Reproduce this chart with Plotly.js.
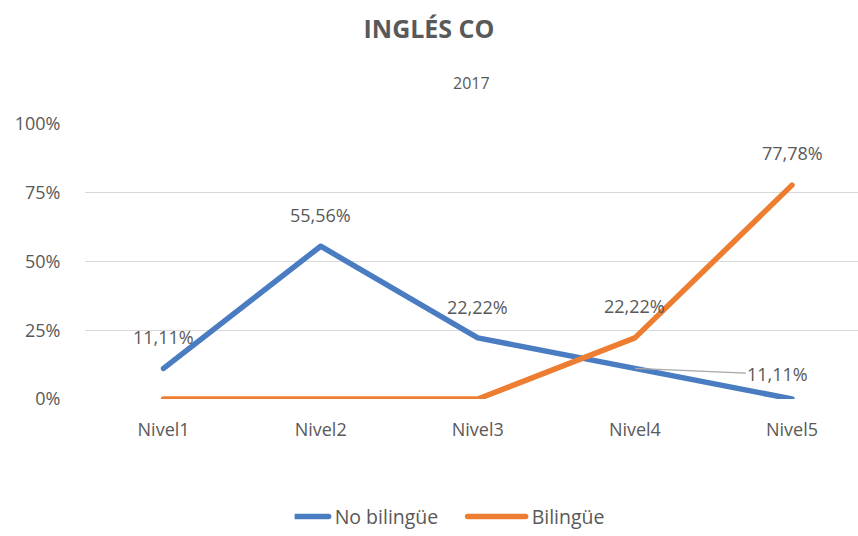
<!DOCTYPE html>
<html><head><meta charset="utf-8">
<script src="https://cdn.plot.ly/plotly-3.0.1.min.js"></script>
<style>html,body{margin:0;padding:0;background:#fff}
.js-line{stroke-linecap:round;stroke-linejoin:round}
.legendlines path{stroke-linecap:round}</style>
</head><body><div id="chart" style="width:858px;height:536px"></div>
<script>
const categories = ["Nivel1","Nivel2","Nivel3","Nivel4","Nivel5"];
const noBilingue = [0.1111, 0.5556, 0.2222, 0.1111, 0];
const bilingue = [0, 0, 0, 0.2222, 0.7778];
const noBilingueLabels = ["11,11%","55,56%","22,22%","11,11%",""];
const bilingueLabels = ["","","","22,22%","77,78%"];
const yTicks = [0,0.25,0.5,0.75,1];
const yTickLabels = ["0%","25%","50%","75%","100%"];

const FONT = "Open Sans, Noto Sans, sans-serif";
const GREY = "#595959";
const FS = 18;

const traces = [
  {x: categories, y: noBilingue, name: "No bilingüe", type: "scatter", mode: "lines",
   line: {color: "#4A7CC2", width: 5.5}},
  {x: categories, y: bilingue, name: "Bilingüe", type: "scatter", mode: "lines",
   line: {color: "#ED7D31", width: 5.5}}
];

const annotations = [];
noBilingueLabels.forEach((t,i)=>{
  if(!t) return;
  if(i===3){
    annotations.push({x: categories[i], y: noBilingue[i], text: t, showarrow: true,
      arrowhead: 0, arrowwidth: 1.2, arrowcolor: "#A6A6A6", ax: 143, ay: 6, standoff: 0,
      font: {family: FONT, size: FS, color: GREY}});
  } else {
    annotations.push({x: categories[i], y: noBilingue[i], text: t, showarrow: false,
      yshift: 31, font: {family: FONT, size: FS, color: GREY}});
  }
});
bilingueLabels.forEach((t,i)=>{
  if(!t) return;
  annotations.push({x: categories[i], y: bilingue[i], text: t, showarrow: false,
    yshift: 32, font: {family: FONT, size: FS, color: GREY}});
});
annotations.push({xref: "paper", yref: "paper", x: 0.5, y: 1, yshift: 41, xanchor: "center",
  yanchor: "middle", text: "2017", showarrow: false, font: {family: FONT, size: 16, color: GREY}});

const layout = {
  width: 858, height: 536,
  margin: {l: 85, r: 0, t: 124, b: 137},
  paper_bgcolor: "#fff", plot_bgcolor: "#fff",
  title: {text: "<b>INGLÉS CO</b>", x: 0.5, xanchor: "center", y: 0.945, yanchor: "middle",
    font: {family: FONT, size: 25, color: GREY}},
  showlegend: true,
  legend: {orientation: "h", xref: "container", x: 0.573, xanchor: "center", yref: "container", y: 0.036, yanchor: "middle",
    entrywidth: 152, font: {family: FONT, size: 19.5, color: GREY}, traceorder: "normal"},
  xaxis: {type: "category", range: [-0.5, 4.42], showgrid: false, zeroline: false, showline: false,
    ticks: "outside", ticklen: 14, tickcolor: "rgba(0,0,0,0)", automargin: false,
    tickfont: {family: FONT, size: FS, color: GREY}, fixedrange: true},
  yaxis: {range: [0, 1], tickvals: yTicks, ticktext: yTickLabels, showgrid: true,
    gridcolor: "#D9D9D9", gridwidth: 1.3, zeroline: false, showline: false, automargin: false,
    ticks: "outside", ticklen: 20, tickcolor: "rgba(0,0,0,0)",
    tickfont: {family: FONT, size: FS, color: GREY}},
  annotations: annotations
};
Plotly.newPlot("chart", traces, layout, {displayModeBar: false, staticPlot: true}).then(gd => {
  // longer legend line samples, as in the original
  gd.querySelectorAll(".legendlines path").forEach(p => p.setAttribute("d", "M-24,0h58"));
});
</script></body></html>
